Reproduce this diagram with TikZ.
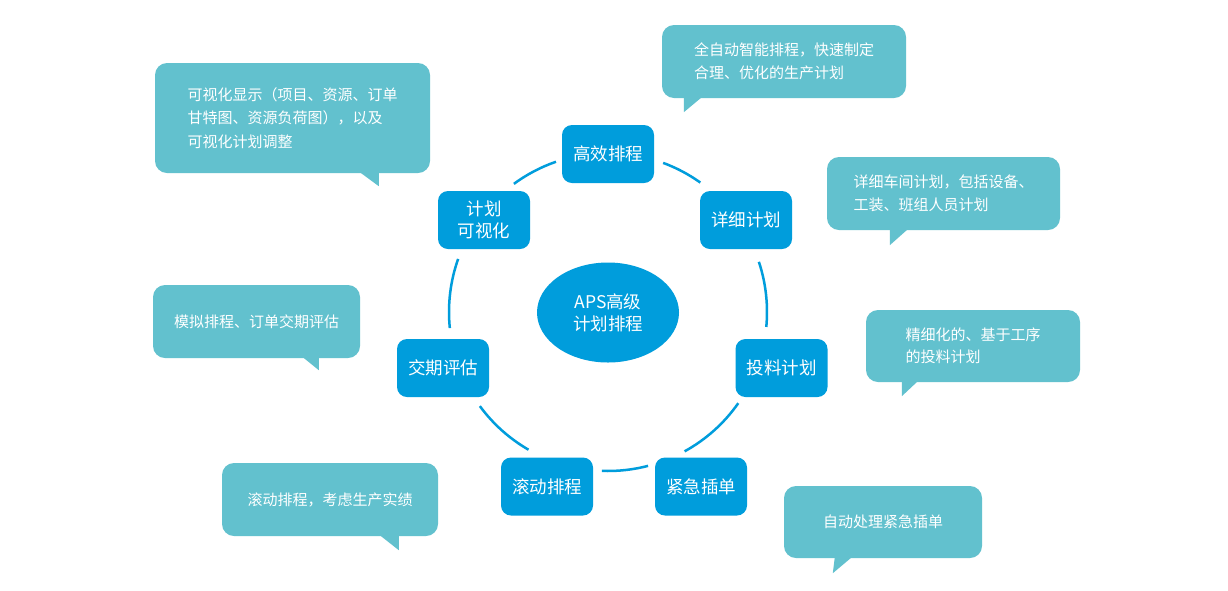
\documentclass[tikz,border=0pt]{standalone}
\usepackage{fontspec}
\setmainfont{Noto Sans CJK SC}
\usetikzlibrary{shapes.geometric}
\definecolor{nodeblue}{RGB}{0,157,220}
\definecolor{callteal}{RGB}{98,193,206}
\tikzset{
  box/.style={fill=nodeblue, rounded corners=10pt, minimum width=92pt, minimum height=58pt,
    inner sep=0pt, text=white, align=center, font=\fontsize{17.5}{22}\selectfont},
  hub/.style={ellipse, fill=nodeblue, minimum width=142pt, minimum height=100pt,
    inner sep=0pt, text=white, align=center, font=\fontsize{17.5}{22}\selectfont},
  callout/.style={fill=callteal, rounded corners=12pt, inner sep=0pt, text=white,
    align=left, font=\fontsize{15}{22.5}\selectfont},
  tail/.style={fill=callteal},
  ring/.style={draw=nodeblue, line width=2.5pt}
}
\begin{document}
\begin{tikzpicture}[x=1pt,y=1pt]
\useasboundingbox[fill=white] (0,0) rectangle (1228,-590);
% ring arcs
\coordinate (O) at (608,-312);
\draw[ring] (O) ++(109.1:159pt) arc[start angle=109.1, end angle=126.3, radius=159pt];
\draw[ring] (O) ++(54.5:159pt) arc[start angle=54.5, end angle=69.7, radius=159pt];
\draw[ring] (O) ++(-5.4:159pt) arc[start angle=-5.4, end angle=18.4, radius=159pt];
\draw[ring] (O) ++(-61.2:159pt) arc[start angle=-61.2, end angle=-35, radius=159pt];
\draw[ring] (O) ++(-92.2:159pt) arc[start angle=-92.2, end angle=-75.4, radius=159pt];
\draw[ring] (O) ++(-143.7:159pt) arc[start angle=-143.7, end angle=-120, radius=159pt];
\draw[ring] (O) ++(160.5:159pt) arc[start angle=160.5, end angle=185.8, radius=159pt];
% hub and steps
\node[hub] (hub) at (608,-312.5) {APS高级\\计划排程};
\node[box] (n1) at (608,-154) {高效排程};
\node[box] (n2) at (746,-220) {详细计划};
\node[box] (n3) at (781.5,-368) {投料计划};
\node[box] (n5) at (701,-486.5) {紧急插单};
\node[box] (n6) at (547,-486.5) {滚动排程};
\node[box] (n7) at (443,-368) {交期评估};
\node[box] (n8) at (484,-220) {计划\\可视化};
% callouts
\node[callout, minimum width=275pt, minimum height=110pt, font=\fontsize{15}{23.5}\selectfont] (cA) at (292.5,-118)
  {可视化显示（项目、资源、订单\\甘特图、资源负荷图），以及\\可视化计划调整};
\fill[tail] ([xshift=205pt,yshift=1pt]cA.south west) -- ([xshift=224pt,yshift=1pt]cA.south west)
  -- ([xshift=224pt,yshift=-13pt]cA.south west) -- cycle;
\node[callout, minimum width=244pt, minimum height=73pt] (cB) at (784,-61.5)
  {全自动智能排程，快速制定\\合理、优化的生产计划};
\fill[tail] ([xshift=22pt,yshift=1pt]cB.south west) -- ([xshift=40pt,yshift=1pt]cB.south west)
  -- ([xshift=22pt,yshift=-14pt]cB.south west) -- cycle;
\node[callout, minimum width=233pt, minimum height=73pt] (cC) at (943.5,-193.5)
  {详细车间计划，包括设备、\\工装、班组人员计划};
\fill[tail] ([xshift=63pt,yshift=1pt]cC.south west) -- ([xshift=81pt,yshift=1pt]cC.south west)
  -- ([xshift=63pt,yshift=-15pt]cC.south west) -- cycle;
\node[callout, minimum width=207pt, minimum height=73pt] (cD) at (256.5,-321.5)
  {模拟排程、订单交期评估};
\fill[tail] ([xshift=150pt,yshift=1pt]cD.south west) -- ([xshift=166pt,yshift=1pt]cD.south west)
  -- ([xshift=166pt,yshift=-12pt]cD.south west) -- cycle;
\node[callout, minimum width=216pt, minimum height=73pt] (cE) at (330,-499.5)
  {滚动排程，考虑生产实绩};
\fill[tail] ([xshift=158pt,yshift=1pt]cE.south west) -- ([xshift=177pt,yshift=1pt]cE.south west)
  -- ([xshift=177pt,yshift=-14pt]cE.south west) -- cycle;
\node[callout, minimum width=214pt, minimum height=72pt] (cF) at (973,-346)
  {精细化的、基于工序\\的投料计划};
\fill[tail] ([xshift=36pt,yshift=1pt]cF.south west) -- ([xshift=52pt,yshift=1pt]cF.south west)
  -- ([xshift=36pt,yshift=-14pt]cF.south west) -- cycle;
\node[callout, minimum width=198pt, minimum height=72pt] (cG) at (883,-522)
  {自动处理紧急插单};
\fill[tail] ([xshift=51pt,yshift=1pt]cG.south west) -- ([xshift=68pt,yshift=1pt]cG.south west)
  -- ([xshift=49pt,yshift=-15pt]cG.south west) -- cycle;
\end{tikzpicture}
\end{document}
